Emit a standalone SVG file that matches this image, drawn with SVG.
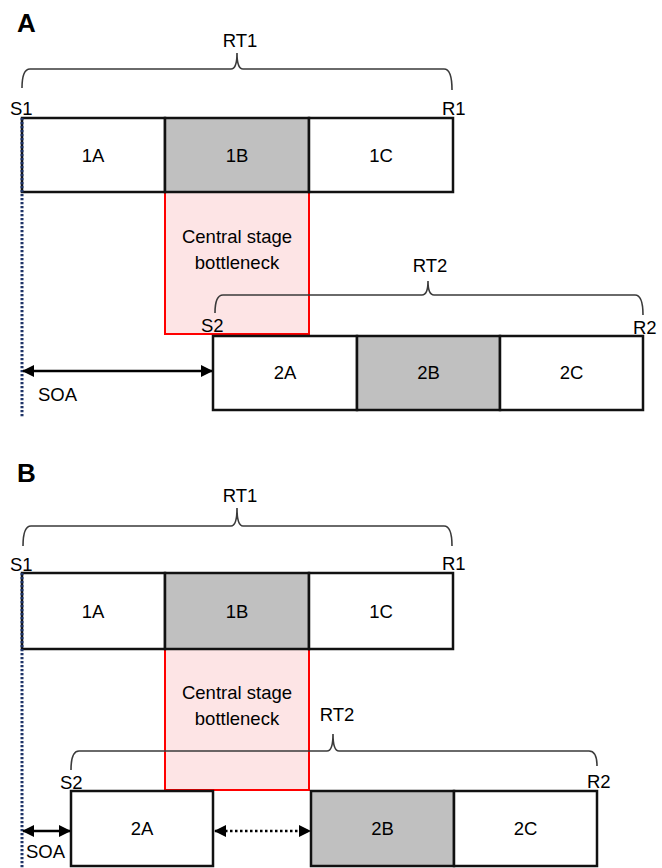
<svg xmlns="http://www.w3.org/2000/svg" width="662" height="868" viewBox="0 0 662 868">
<style>
text{font-family:"Liberation Sans",Arial,sans-serif;font-size:18.5px;fill:#000}
.c{text-anchor:middle}
.panel{font-weight:bold;font-size:26px}
.box{fill:#fff;stroke:#111;stroke-width:2.5}
.gray{fill:#c0c0c0}
.neck{fill:#fde4e5;stroke:#ff0000;stroke-width:2}
.brace{fill:none;stroke:#3a3a3a;stroke-width:1.6}
.dots{stroke:#1f3468;stroke-width:3;stroke-dasharray:2.2 1.8;fill:none}
.arr{stroke:#000;stroke-width:2.5;fill:none}
.dash{stroke-dasharray:2.5 2.5}
</style>
<defs>
<marker id="ah" viewBox="0 0 12 12" refX="11" refY="6" markerWidth="12" markerHeight="12" markerUnits="userSpaceOnUse" orient="auto-start-reverse">
<path d="M0,0 L12,6 L0,12 Z" fill="#000"/>
</marker>
</defs>

<text class="panel" x="17" y="32">A</text>
<text class="panel" x="17" y="482">B</text>

<!-- Panel A -->
<g id="A-bottleneck">
<rect class="neck" x="165" y="192" width="144" height="142"/>
<text class="c" x="237" y="243">Central stage</text>
<text class="c" x="237" y="269">bottleneck</text>
</g>
<g id="A-1A"><rect class="box" x="22" y="118" width="143" height="74"/><text class="c" x="93" y="161.5">1A</text></g>
<g id="A-1B"><rect class="box gray" x="165" y="118" width="144" height="74"/><text class="c" x="237" y="161.5">1B</text></g>
<g id="A-1C"><rect class="box" x="309" y="118" width="144" height="74"/><text class="c" x="381" y="161.5">1C</text></g>
<g id="A-2A"><rect class="box" x="213" y="336" width="144" height="74"/><text class="c" x="285" y="379">2A</text></g>
<g id="A-2B"><rect class="box gray" x="357" y="336" width="143" height="74"/><text class="c" x="428.5" y="379">2B</text></g>
<g id="A-2C"><rect class="box" x="500" y="336" width="143" height="74"/><text class="c" x="571.5" y="379">2C</text></g>
<g id="A-labels">
<text class="c" x="240" y="47">RT1</text>
<text x="10" y="115">S1</text>
<text x="442" y="115">R1</text>
<text class="c" x="430" y="272">RT2</text>
<text x="201" y="332">S2</text>
<text x="633" y="334">R2</text>
<text x="38" y="401">SOA</text>
</g>

<!-- Panel B -->
<g id="B-bottleneck">
<rect class="neck" x="165" y="649" width="144" height="141"/>
<text class="c" x="237" y="699">Central stage</text>
<text class="c" x="237" y="725">bottleneck</text>
</g>
<g id="B-1A"><rect class="box" x="22" y="573" width="143" height="76"/><text class="c" x="93" y="617.5">1A</text></g>
<g id="B-1B"><rect class="box gray" x="165" y="573" width="144" height="76"/><text class="c" x="237" y="617.5">1B</text></g>
<g id="B-1C"><rect class="box" x="309" y="573" width="144" height="76"/><text class="c" x="381" y="617.5">1C</text></g>
<g id="B-2A"><rect class="box" x="71" y="791" width="142" height="75"/><text class="c" x="142" y="835">2A</text></g>
<g id="B-2B"><rect class="box gray" x="311" y="791" width="143" height="75"/><text class="c" x="382.5" y="835">2B</text></g>
<g id="B-2C"><rect class="box" x="454" y="791" width="143" height="75"/><text class="c" x="525.5" y="835">2C</text></g>
<g id="B-labels">
<text class="c" x="240" y="502">RT1</text>
<text x="10" y="571">S1</text>
<text x="442" y="570">R1</text>
<text class="c" x="337" y="721">RT2</text>
<text x="60" y="789">S2</text>
<text x="587" y="788">R2</text>
<text x="26" y="858">SOA</text>
</g>

<g id="connectors">
<!-- braces -->
<path class="brace" d="M22,88 Q22,69 30,69 L231,69 Q237,69 237,53 Q237,69 243,69 L444,69 Q452,69 452,90"/>
<path class="brace" d="M215,313 Q215,295 223,295 L422,295 Q428,295 428,281 Q428,295 434,295 L635,295 Q643,295 643,315"/>
<path class="brace" d="M23,546 Q23,526 31,526 L231,526 Q237,526 237,508 Q237,526 243,526 L444,526 Q452,526 452,546"/>
<path class="brace" d="M71,770 Q71,751 79,751 L327,751 Q333,751 333,734 Q333,751 339,751 L589,751 Q597,751 597,766"/>
<!-- dotted S1 lines -->
<line class="dots" x1="22" y1="118" x2="22" y2="418"/>
<line class="dots" x1="22" y1="573" x2="22" y2="868"/>
<!-- SOA arrows -->
<line class="arr" x1="23" y1="371" x2="212" y2="371" marker-start="url(#ah)" marker-end="url(#ah)"/>
<line class="arr" x1="23" y1="831" x2="70" y2="831" marker-start="url(#ah)" marker-end="url(#ah)"/>
<!-- waiting arrow -->
<line class="arr dash" x1="215" y1="831" x2="310" y2="831" marker-start="url(#ah)" marker-end="url(#ah)"/>
</g>
</svg>
